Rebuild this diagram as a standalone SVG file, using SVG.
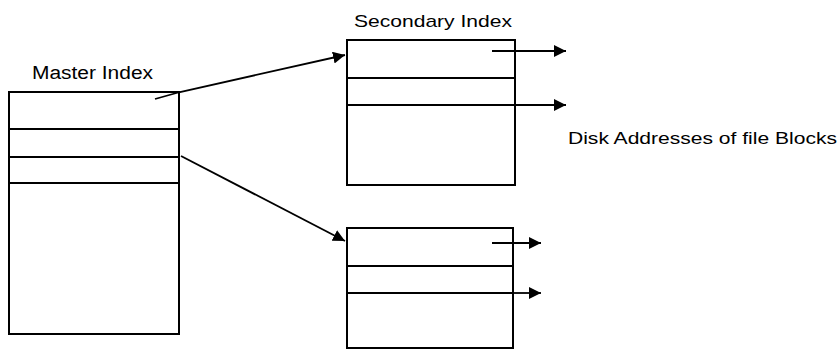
<svg xmlns="http://www.w3.org/2000/svg" width="838" height="351" viewBox="0 0 838 351">
<style>
.box{fill:none;stroke:#000;stroke-width:2}
.ln{stroke:#000;stroke-width:2;fill:none}
.cn{stroke:#000;stroke-width:1.8;fill:none;marker-end:url(#ah)}
text{font-family:"Liberation Sans",Arial,sans-serif;fill:#000}
</style>
<defs>
<marker id="ah" markerUnits="userSpaceOnUse" markerWidth="13" markerHeight="12" refX="12" refY="6" orient="auto">
<path d="M0,0 L12,6 L0,12 z" fill="#000"/>
</marker>
</defs>
<rect width="838" height="351" fill="#fff"/>
<g id="master">
<text x="32" y="79" font-size="18" textLength="121" lengthAdjust="spacingAndGlyphs">Master Index</text>
<rect class="box" x="9" y="92" width="170" height="242"/>
<line class="ln" x1="9" y1="129" x2="179" y2="129"/>
<line class="ln" x1="9" y1="157" x2="179" y2="157"/>
<line class="ln" x1="9" y1="183" x2="179" y2="183"/>
</g>
<g id="secondary">
<text x="354" y="27" font-size="17" textLength="158" lengthAdjust="spacingAndGlyphs">Secondary Index</text>
<rect class="box" x="347" y="40" width="168" height="145"/>
<line class="ln" x1="347" y1="78" x2="515" y2="78"/>
<line class="ln" x1="347" y1="105" x2="515" y2="105"/>
</g>
<g id="block2">
<rect class="box" x="347" y="228" width="166" height="120"/>
<line class="ln" x1="347" y1="266" x2="513" y2="266"/>
<line class="ln" x1="347" y1="293" x2="513" y2="293"/>
</g>
<g id="disk-label">
<text x="568" y="144" font-size="17" textLength="269" lengthAdjust="spacingAndGlyphs">Disk Addresses of file Blocks</text>
</g>
<g id="connectors">
<polyline class="cn" points="155,99 180,92 345,55"/>
<line class="cn" x1="181" y1="156" x2="345" y2="241"/>
<line class="cn" x1="492" y1="51" x2="566" y2="51"/>
<line class="cn" x1="515" y1="105" x2="566" y2="105"/>
<line class="cn" x1="492" y1="243" x2="541" y2="243"/>
<line class="cn" x1="513" y1="293" x2="541" y2="293"/>
</g>
</svg>
